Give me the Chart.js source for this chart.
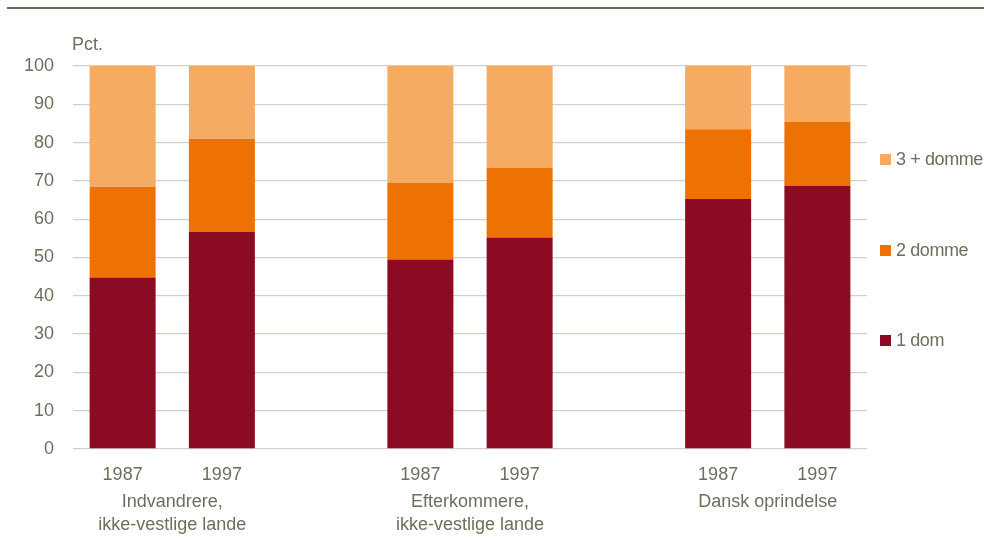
<!DOCTYPE html>
<html>
<head>
<meta charset="utf-8">
<script src="https://cdn.jsdelivr.net/npm/chart.js@4/dist/chart.umd.min.js"></script>
<style>
  body { margin: 0; background: #fff; font-family: "Liberation Sans", Arial, sans-serif; }
  #wrap { position: relative; width: 984px; height: 542px; overflow: hidden; }
  #topline { position: absolute; left: 7px; right: 0; top: 7px; height: 2px; background: #6d6b5b; }
  #legend { position: absolute; left: 880px; top: 0; color: #6e6e5e; font-size: 18px; letter-spacing: -0.4px; }
  .item { position: absolute; left: 0; white-space: nowrap; line-height: 20px; }
  .box { display: inline-block; width: 11px; height: 11px; margin-right: 5px; vertical-align: 0px; }
</style>
</head>
<body>
<div id="wrap">
  <div id="topline"></div>
  <canvas id="chart" width="984" height="542"></canvas>
  <div id="legend"></div>
</div>
<script>
const years = ['1987', '1997', '', '1987', '1997', '', '1987', '1997'];
const groupLabels = [
  ['Indvandrere,', 'ikke-vestlige lande'],
  ['Efterkommere,', 'ikke-vestlige lande'],
  ['Dansk oprindelse']
];
const seriesNames = ['1 dom', '2 domme', '3 + domme'];
const oneDom = [44.8, 56.7, null, 49.5, 55.2, null, 65.3, 68.7];
const twoDomme = [23.7, 24.3, null, 20.0, 18.2, null, 18.2, 16.7];
const threeDomme = [31.5, 19.0, null, 30.5, 26.6, null, 16.5, 14.6];
const colors = ['#8b0c22', '#ee7203', '#f6ab62'];

const textColor = '#6e6e5e';
const fontFamily = '"Liberation Sans", Arial, sans-serif';

// group labels under the year ticks, plus the "Pct." unit label
const extraText = {
  id: 'extraText',
  afterDraw(chart) {
    const ctx = chart.ctx;
    const x = chart.scales.x;
    ctx.save();
    ctx.fillStyle = textColor;
    ctx.font = '18px ' + fontFamily;
    ctx.textBaseline = 'alphabetic';
    ctx.textAlign = 'left';
    ctx.fillText('Pct.', 72, 50);
    ctx.textAlign = 'center';
    groupLabels.forEach((lines, i) => {
      const cx = (x.getPixelForValue(i * 3) + x.getPixelForValue(i * 3 + 1)) / 2;
      lines.forEach((t, j) => ctx.fillText(t, cx, 507 + j * 23));
    });
    ctx.restore();
  }
};

const ctx = document.getElementById('chart').getContext('2d');
new Chart(ctx, {
  type: 'bar',
  data: {
    labels: years,
    datasets: [oneDom, twoDomme, threeDomme].map((d, i) => ({
      label: seriesNames[i],
      data: d,
      backgroundColor: colors[i],
      borderWidth: 0,
      barPercentage: 0.665,
      categoryPercentage: 1
    }))
  },
  options: {
    responsive: false,
    animation: false,
    layout: { padding: { left: 0, right: 117, top: 66, bottom: 0 } },
    scales: {
      x: {
        stacked: true,
        grid: { display: false, drawTicks: false },
        border: { display: false },
        ticks: { color: textColor, font: { family: fontFamily, size: 18 }, padding: 15, maxRotation: 0, autoSkip: false },
        afterFit(s) { s.height = 93; }
      },
      y: {
        stacked: true,
        min: 0,
        max: 100,
        grid: { color: '#d3d2c8', lineWidth: 1.3, drawTicks: false },
        border: { display: false },
        ticks: { stepSize: 10, color: textColor, font: { family: fontFamily, size: 18 }, padding: 19 },
        afterFit(s) { s.width = 73; }
      }
    },
    plugins: {
      legend: { display: false },
      tooltip: { enabled: false }
    }
  },
  plugins: [extraText]
});

// legend on the right, top to bottom in reverse order
const legendTops = [340, 250, 159];
const legend = document.getElementById('legend');
seriesNames.forEach((name, i) => {
  const el = document.createElement('div');
  el.className = 'item';
  el.style.top = (legendTops[i] - 10) + 'px';
  el.innerHTML = '<span class="box" style="background:' + colors[i] + '"></span>' + name;
  legend.appendChild(el);
});
</script>
</body>
</html>
